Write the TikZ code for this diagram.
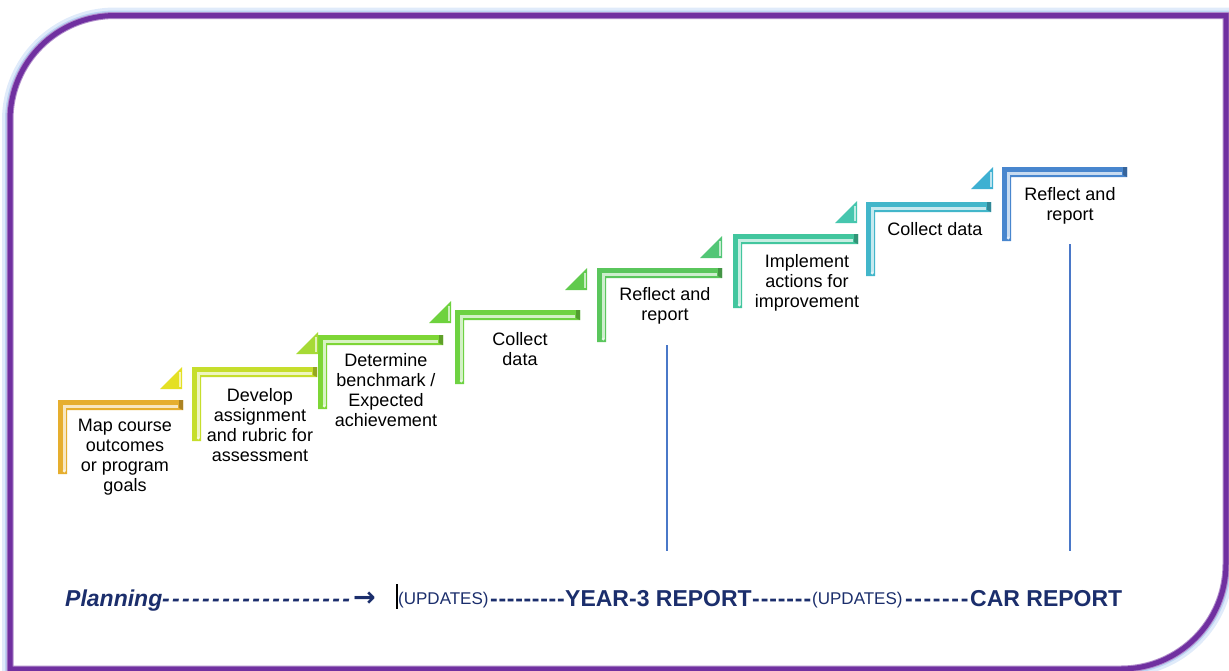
\documentclass[tikz,border=0pt]{standalone}
\usepackage{fontspec}
\setmainfont{Liberation Sans}
\newfontfamily\arrowfont{DejaVu Sans}

% step colours, from warm gold to blue
\definecolor{stA}{HTML}{E6AE2E}
\definecolor{stB}{HTML}{C6DE2C}
\definecolor{stC}{HTML}{7ED636}
\definecolor{stD}{HTML}{6ED242}
\definecolor{stE}{HTML}{5AC65C}
\definecolor{stF}{HTML}{42C69E}
\definecolor{stG}{HTML}{42B6CA}
\definecolor{stH}{HTML}{4886CE}
% corner wedges between the steps
\definecolor{wA}{HTML}{E4E024}
\definecolor{wB}{HTML}{A6DA36}
\definecolor{wC}{HTML}{6ED23E}
\definecolor{wD}{HTML}{60CA4E}
\definecolor{wE}{HTML}{52C676}
\definecolor{wF}{HTML}{46C6AE}
\definecolor{wG}{HTML}{3EB0D2}
\definecolor{navy}{HTML}{1B2E6C}
\definecolor{framepurple}{HTML}{7030A0}
\definecolor{glowblue}{HTML}{A6C6F0}
\definecolor{guideblue}{HTML}{4A78C8}

% one L-shaped step: top-left corner (#1,#2), colour #3
\newcommand\stepbar[3]{%
  \fill[#3] (#1,#2) -- ++(125,0) -- ++(0,10) -- ++(-116,0) -- ++(0,64) -- ++(-9,0) -- cycle;
  \draw[#3!30!white, line width=2.6] (#1+120,#2+6.4) -- (#1+6.2,#2+6.4) -- (#1+6.2,#2+71);
  \fill[#3!75!black] (#1+121,#2) -- (#1+125,#2) -- (#1+125,#2+10) -- (#1+121,#2+8) -- cycle;
  \fill[white!85!#3] (#1+6.2,#2+71) circle (1.6);
}
% small wedge with its right angle at (#1,#2), colour #3
\newcommand\stepwedge[3]{%
  \fill[#3] (#1,#2) -- (#1-22,#2) -- (#1,#2-22) -- cycle;
  \draw[#3!35!white, line width=1.4] (#1-2.2,#2-17) -- (#1-2.2,#2-2.5);
}
% a run of #1 separate hyphens, each followed by a gap of #2 pt
\newcommand\hyrun[2]{\foreach \k in {1,...,#1}{-\kern#2pt\relax}}

\begin{document}
\begin{tikzpicture}[x=1pt,y=-1pt,
  steptext/.style={align=center, font=\fontsize{18}{20}\selectfont, text=black, inner sep=0pt},
  bigtxt/.style={anchor=base west, inner sep=0pt, text=navy, font=\fontsize{23}{26}\selectfont\bfseries},
  smalltxt/.style={anchor=base west, inner sep=0pt, text=navy, font=\fontsize{17}{20}\selectfont},
  guide/.style={guideblue, line width=1.4}]
\useasboundingbox (0,0) rectangle (1229,670);

% frame with soft outer glow
\def\framepath{(10,690) -- (10,120) .. controls (10,62) and (57,15.5) .. (115,15.5)
  -- (1226,15.5) -- (1226,564) .. controls (1226,622) and (1179,669) .. (1121,669)
  -- (10,669) -- cycle}
\draw[glowblue, line width=16, opacity=0.35] \framepath;
\draw[glowblue, line width=10, opacity=0.6] \framepath;
\fill[white] \framepath;
\draw[framepurple!55!white, line width=7] \framepath;
\draw[framepurple, line width=5] \framepath;

% staircase
\stepbar{58}{400}{stA}
\stepbar{192}{367}{stB}
\stepbar{318}{335}{stC}
\stepbar{455}{310}{stD}
\stepbar{597}{268}{stE}
\stepbar{733}{234}{stF}
\stepbar{866}{202}{stG}
\stepbar{1002}{167}{stH}

\stepwedge{182}{389}{wA}
\stepwedge{318}{354}{wB}
\stepwedge{451}{323}{wC}
\stepwedge{587}{290}{wD}
\stepwedge{722}{258}{wE}
\stepwedge{857}{223}{wF}
\stepwedge{993}{189}{wG}

% step labels
\node[steptext] (s1) at (125,457) {Map course\\outcomes\\or program\\goals};
\node[steptext] (s2) at (260,425) {Develop\\assignment\\and rubric for\\assessment};
\node[steptext] (s3) at (386,390) {Determine\\benchmark /\\Expected\\achievement};
\node[steptext] (s4) at (520,349) {Collect\\data};
\node[steptext] (s5) at (665,306) {Reflect and\\report};
\node[steptext] (s6) at (807,283) {Implement\\actions for\\improvement};
\node[steptext] (s7) at (935,229) {Collect data};
\node[steptext] (s8) at (1070,206) {Reflect and\\report};

% timeline
\node[bigtxt] (plan) at (65,606) {\itshape Planning};
\node[bigtxt] (d1) at (162,606) {\itshape\hyrun{19}{2.35}};
\node[bigtxt, font=\fontsize{27}{30}\selectfont\arrowfont\bfseries] (arr) at (353,606) {→};
\draw[black, line width=1.5] (397,584) -- (397,609);
\node[smalltxt] (u1) at (398,604) {(UPDATES)};
\node[bigtxt] (d2) at (490,606) {\hyrun{9}{0.7}};
\node[bigtxt] (y3) at (565,606) {YEAR-3 REPORT};
\node[bigtxt] (d3) at (752,606) {\hyrun{7}{0.9}};
\node[smalltxt] (u2) at (812,604) {(UPDATES)};
\node[bigtxt] (d4) at (905,606) {\hyrun{7}{1.6}};
\node[bigtxt] (car) at (970,606) {CAR REPORT};

% report markers
\coordinate (m1top) at (667,345);
\coordinate (m1bot) at (667,551);
\coordinate (m2top) at (1070,244);
\coordinate (m2bot) at (1070,551);
\draw[guide] (m1top) -- (m1bot);
\draw[guide] (m2top) -- (m2bot);
\end{tikzpicture}
\end{document}
